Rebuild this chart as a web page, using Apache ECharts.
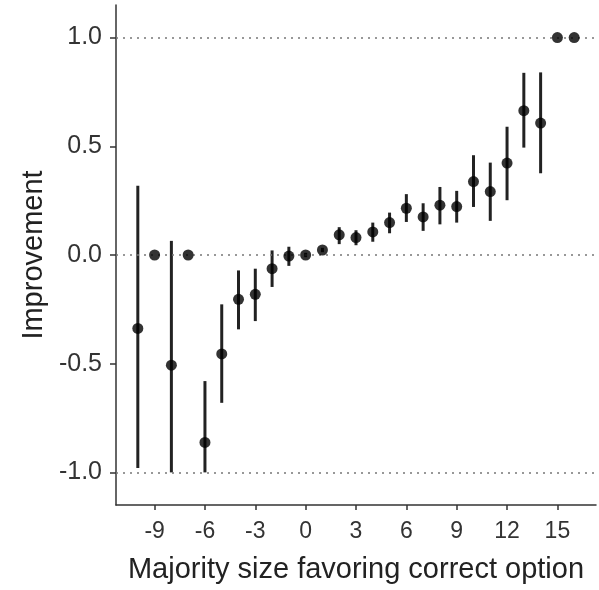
<!DOCTYPE html>
<html>
<head>
<meta charset="utf-8">
<script src="https://cdn.jsdelivr.net/npm/echarts@6/dist/echarts.min.js"></script>
<style>html,body{margin:0;padding:0;background:#fff;}#c{width:599px;height:590px;}</style>
</head>
<body>
<div id="c"></div>
<script>
var majority = [-10,-9,-8,-7,-6,-5,-4,-3,-2,-1,0,1,2,3,4,5,6,7,8,9,10,11,12,13,14,15,16];
var improvement = [-0.338,0.0,-0.507,0.0,-0.862,-0.455,-0.204,-0.181,-0.063,-0.005,0.0,0.023,0.093,0.080,0.106,0.149,0.215,0.175,0.229,0.223,0.338,0.292,0.423,0.664,0.607,1.0,1.0];
var lower = [-0.98,null,-1.0,null,-1.0,-0.68,-0.342,-0.304,-0.147,-0.05,-0.01,0.013,0.05,0.045,0.061,0.10,0.152,0.111,0.141,0.149,0.221,0.157,0.252,0.494,0.376,null,null];
var upper = [0.318,null,0.065,null,-0.58,-0.227,-0.071,-0.063,0.021,0.038,0.01,0.033,0.128,0.114,0.149,0.195,0.28,0.238,0.313,0.295,0.459,0.425,0.59,0.838,0.84,null,null];
var xTicks = [-9,-6,-3,0,3,6,9,12,15];
var yTicks = [-1.0,-0.5,0.0,0.5,1.0];
var refLines = [-1.0,0.0,1.0];

var points = majority.map(function(x,i){return [x, improvement[i]];});
var bars = [];
majority.forEach(function(x,i){ if(lower[i]!==null) bars.push([x, lower[i], upper[i]]); });

var chart = echarts.init(document.getElementById('c'));
var axisCol = '#333';
chart.setOption({
  animation:false,
  backgroundColor:'#fff',
  grid:{left:116,right:3,top:5,bottom:85},
  xAxis:{type:'value',min:-11.3,max:17.3,
    name:'Majority size favoring correct option',nameLocation:'middle',nameGap:50,
    nameTextStyle:{fontFamily:'Liberation Sans',fontSize:29,color:'#222'},
    axisLine:{show:true,onZero:false,lineStyle:{color:axisCol,width:1.5}},
    axisTick:{show:true,length:5,customValues:xTicks,lineStyle:{color:axisCol,width:1.5}},
    axisLabel:{customValues:xTicks,fontFamily:'Liberation Sans',fontSize:23,color:'#333',margin:15},
    splitLine:{show:false}},
  yAxis:{type:'value',min:-1.15,max:1.15,
    name:'Improvement',nameLocation:'middle',nameGap:68,nameRotate:90,
    nameTextStyle:{fontFamily:'Liberation Sans',fontSize:29,color:'#222'},
    axisLine:{show:true,onZero:false,lineStyle:{color:axisCol,width:1.5}},
    axisTick:{show:true,length:6,customValues:yTicks,lineStyle:{color:axisCol,width:1.5}},
    axisLabel:{customValues:yTicks,fontFamily:'Liberation Sans',fontSize:25,color:'#333',margin:14,
      formatter:function(v){return v.toFixed(1);}},
    splitLine:{show:false}},
  series:[
    {type:'line',data:[],markLine:{silent:true,symbol:['none','none'],label:{show:false},
      lineStyle:{type:[2,5],color:'#777',width:1.5},
      data:refLines.map(function(v){return {yAxis:v};})}},
    {type:'custom',data:bars,z:3,
      renderItem:function(params,api){
        var p1=api.coord([api.value(0),api.value(1)]);
        var p2=api.coord([api.value(0),api.value(2)]);
        return {type:'line',shape:{x1:p1[0],y1:p1[1],x2:p2[0],y2:p2[1]},
          style:{stroke:'#222',lineWidth:3}};
      }},
    {type:'scatter',data:points,symbol:'circle',symbolSize:11,z:5,
      itemStyle:{color:'#000'}}
  ]
});
</script>
</body>
</html>
